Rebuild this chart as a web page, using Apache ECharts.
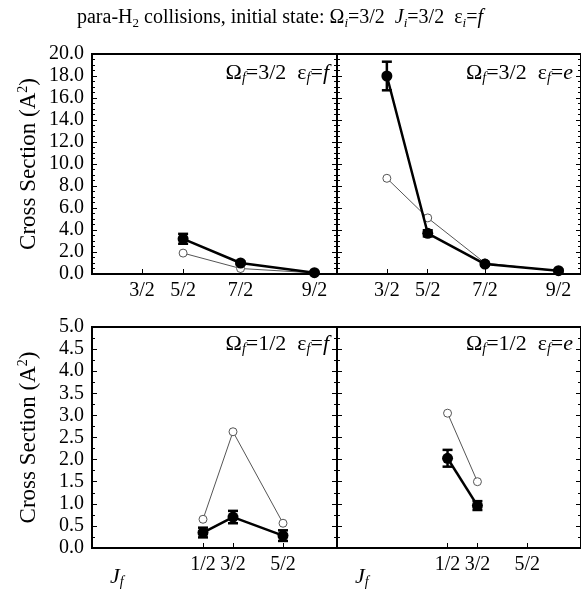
<!DOCTYPE html>
<html>
<head>
<meta charset="utf-8">
<script src="https://cdn.jsdelivr.net/npm/echarts@6/dist/echarts.min.js"></script>
<style>
  html, body { margin: 0; padding: 0; background: #fff; }
  #chart { width: 581px; height: 589px; }
</style>
</head>
<body>
<div id="chart"></div>
<script>
// x positions on the rotational-energy scale, J(J+1)
const topX = [3.75, 8.75, 15.75, 24.75]
const topTickLabels = ['3/2', '5/2', '7/2', '9/2']
const botX = [0.75, 3.75, 8.75]
const botTickLabels = ['1/2', '3/2', '5/2']

const topYTicks = [0, 20, 2]
const botYTicks = [0, 5, 0.5]

// Omega_f=3/2 eps_f=f
const expA = [null, 3.2, 1.0, 0.12]
const errA = [null, 0.45, 0.12, 0.06]
const theoryA = [null, 1.9, 0.5, 0.1]
// Omega_f=3/2 eps_f=e
const expB = [18.0, 3.7, 0.9, 0.3]
const errB = [1.3, 0.28, 0.12, 0.08]
const theoryB = [8.7, 5.1, 1.0, 0.25]
// Omega_f=1/2 eps_f=f
const expC = [0.35, 0.7, 0.28]
const errC = [0.11, 0.14, 0.12]
const theoryC = [0.65, 2.63, 0.56]
// Omega_f=1/2 eps_f=e
const expD = [2.03, 0.96, null]
const errD = [0.19, 0.1, null]
const theoryD = [3.05, 1.5, null]

const FONT = '"Liberation Serif", "Times New Roman", serif'

const rich = {
  n: { fontFamily: FONT, fontSize: 20, lineHeight: 24, color: '#000' },
  it: { fontFamily: FONT, fontSize: 20, lineHeight: 24, fontStyle: 'italic', color: '#000' },
  sub: { fontFamily: FONT, fontSize: 13, lineHeight: 13, verticalAlign: 'bottom', color: '#000' },
  subi: { fontFamily: FONT, fontSize: 13, lineHeight: 13, verticalAlign: 'bottom', fontStyle: 'italic', color: '#000' },
  p: { fontFamily: FONT, fontSize: 22, lineHeight: 25, color: '#000' },
  pit: { fontFamily: FONT, fontSize: 22, lineHeight: 25, fontStyle: 'italic', color: '#000' },
  psub: { fontFamily: FONT, fontSize: 14, lineHeight: 14, verticalAlign: 'bottom', fontStyle: 'italic', color: '#000' },
  big: { fontFamily: FONT, fontSize: 23, lineHeight: 26, color: '#000' },
  sup: { fontFamily: FONT, fontSize: 14, lineHeight: 14, verticalAlign: 'top', color: '#000' }
}

function pairs(xs, ys) {
  let out = []
  ys.forEach((v, i) => { if (v != null) out.push([xs[i], v]) })
  return out
}
function errPairs(xs, ys, es) {
  let out = []
  ys.forEach((v, i) => { if (v != null) out.push([xs[i], v - es[i], v + es[i]]) })
  return out
}

const grids = [
  { left: 92, top: 54, width: 245, height: 220 },
  { left: 337, top: 54, width: 245, height: 220 },
  { left: 92, top: 327, width: 245, height: 221 },
  { left: 337, top: 327, width: 245, height: 221 }
]

const tickStyle = { color: '#000', width: 1 }

function xAxisFor(idx) {
  let top = idx < 2
  let xs = top ? topX : botX
  let labels = top ? topTickLabels : botTickLabels
  return {
    gridIndex: idx,
    type: 'value',
    min: top ? -2.35 : -10.35,
    max: top ? 27.5 : 14.15,
    axisLine: { show: true, onZero: false, lineStyle: { color: '#000', width: 2 } },
    splitLine: { show: false },
    axisTick: { show: true, inside: true, length: 5, lineStyle: tickStyle, customValues: xs },
    axisLabel: {
      customValues: xs,
      margin: 7,
      fontFamily: FONT, fontSize: 20, color: '#000',
      formatter: v => labels[xs.indexOf(v)] || ''
    }
  }
}

function yAxesFor(idx) {
  let top = idx < 2
  let t = top ? topYTicks : botYTicks
  let base = {
    gridIndex: idx,
    type: 'value',
    min: t[0], max: t[1], interval: t[2],
    axisLine: { show: true, onZero: false, lineStyle: { color: '#000', width: 2 } },
    splitLine: { show: false },
    axisTick: { show: true, inside: true, length: 5, lineStyle: tickStyle },
    minorTick: { show: true, splitNumber: top ? 4 : 2, length: 3, lineStyle: tickStyle }
  }
  let left = Object.assign({}, base, {
    position: 'left',
    axisLabel: {
      show: idx % 2 === 0,
      margin: 8,
      fontFamily: FONT, fontSize: 20, color: '#000',
      formatter: v => v.toFixed(1)
    }
  })
  if (idx % 2 === 0) {
    left.name = '{big|Cross Section (A}{sup|2}{big|)}'
    left.nameLocation = 'middle'
    left.nameRotate = 90
    left.nameGap = 50
    left.nameTextStyle = { fontFamily: FONT, fontSize: 23, color: '#000', rich: rich }
  }
  let right = Object.assign({}, base, { position: 'right', axisLabel: { show: false } })
  return [left, right]
}

const xAxes = [0, 1, 2, 3].map(xAxisFor)
let yAxes = []
;[0, 1, 2, 3].forEach(i => { yAxes = yAxes.concat(yAxesFor(i)) })

function errorBarSeries(idx, data) {
  return {
    type: 'custom',
    xAxisIndex: idx,
    yAxisIndex: idx * 2,
    z: 4,
    data: data,
    renderItem: function (params, api) {
      let lo = api.coord([api.value(0), api.value(1)])
      let hi = api.coord([api.value(0), api.value(2)])
      let w = 5
      let st = { stroke: '#000', lineWidth: 2.5 }
      return {
        type: 'group',
        children: [
          { type: 'line', shape: { x1: lo[0], y1: lo[1], x2: hi[0], y2: hi[1] }, style: st },
          { type: 'line', shape: { x1: lo[0] - w, y1: lo[1], x2: lo[0] + w, y2: lo[1] }, style: st },
          { type: 'line', shape: { x1: hi[0] - w, y1: hi[1], x2: hi[0] + w, y2: hi[1] }, style: st }
        ]
      }
    }
  }
}

function panelSeries(idx, xs, exp, err, theory) {
  return [
    {
      type: 'line',
      xAxisIndex: idx, yAxisIndex: idx * 2,
      data: pairs(xs, theory),
      symbol: 'circle', symbolSize: 8,
      lineStyle: { color: '#555', width: 1 },
      itemStyle: { color: '#fff', borderColor: '#555', borderWidth: 1 },
      z: 2, animation: false
    },
    {
      type: 'line',
      xAxisIndex: idx, yAxisIndex: idx * 2,
      data: pairs(xs, exp),
      symbol: 'circle', symbolSize: 11,
      lineStyle: { color: '#000', width: 2.5 },
      itemStyle: { color: '#000' },
      z: 3, animation: false
    },
    errorBarSeries(idx, errPairs(xs, exp, err))
  ]
}

const series = [].concat(
  panelSeries(0, topX, expA, errA, theoryA),
  panelSeries(1, topX, expB, errB, theoryB),
  panelSeries(2, botX, expC, errC, theoryC),
  panelSeries(3, botX, expD, errD, theoryD)
)

function label(x, y, text, align) {
  return {
    type: 'text', x: x, y: y,
    style: { text: text, rich: rich, textAlign: align || 'right', textVerticalAlign: 'middle', fill: '#000' }
  }
}

const graphics = [
  label(280, 18, '{n|para-H}{sub|2}{n| collisions, initial state: Ω}{subi|i}{n|=3/2  }{it|J}{subi|i}{n|=3/2  ε}{subi|i}{n|=}{it|f}', 'center'),
  label(329, 73, '{p|Ω}{psub|f}{p|=3/2  ε}{psub|f}{p|=}{pit|f}'),
  label(573, 73, '{p|Ω}{psub|f}{p|=3/2  ε}{psub|f}{p|=}{pit|e}'),
  label(329, 344, '{p|Ω}{psub|f}{p|=1/2  ε}{psub|f}{p|=}{pit|f}'),
  label(573, 344, '{p|Ω}{psub|f}{p|=1/2  ε}{psub|f}{p|=}{pit|e}'),
  label(110, 577, '{pit|J}{psub|f}', 'left'),
  label(355, 577, '{pit|J}{psub|f}', 'left')
]

const myChart = echarts.init(document.getElementById('chart'), null, { renderer: 'canvas' })
myChart.setOption({
  animation: false,
  grid: grids.map(g => Object.assign({ show: true, borderColor: '#000', borderWidth: 2, backgroundColor: 'transparent' }, g)),
  xAxis: xAxes,
  yAxis: yAxes,
  series: series,
  graphic: graphics
})
</script>
</body>
</html>
